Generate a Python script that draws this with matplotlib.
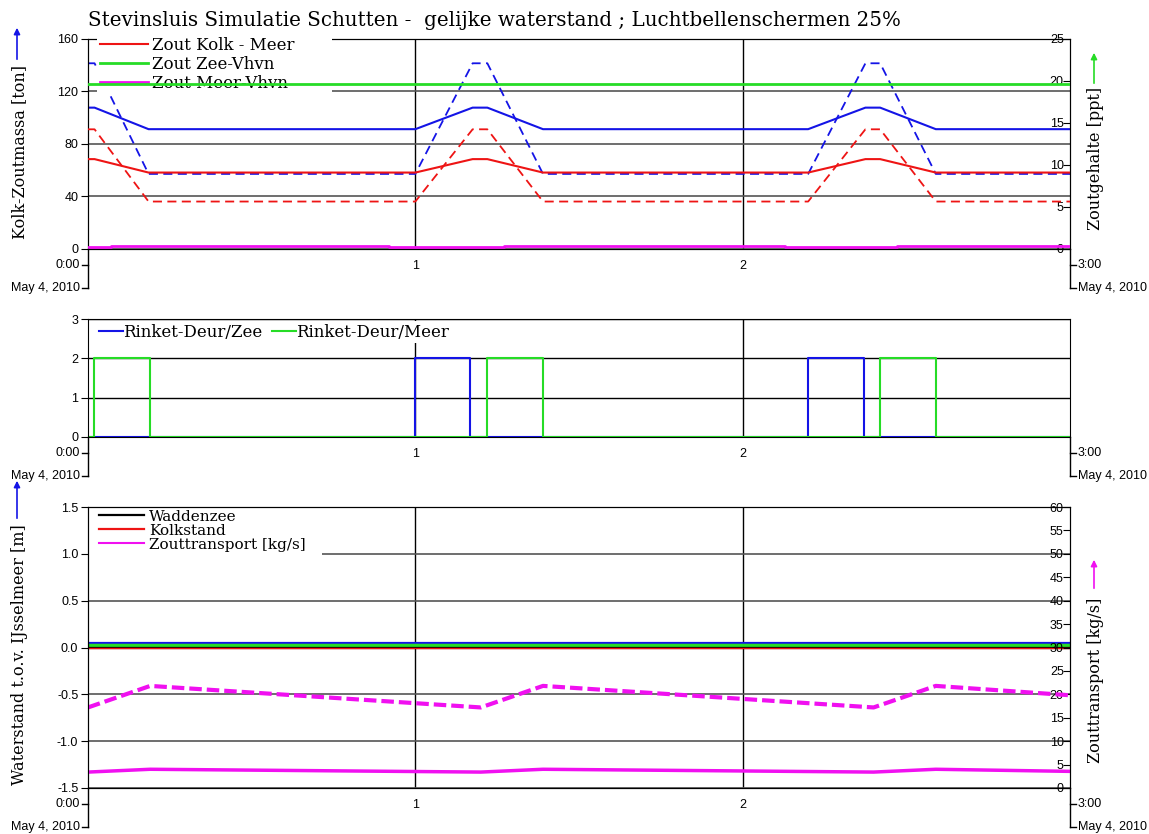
import matplotlib
matplotlib.use('Agg')
import matplotlib.pyplot as plt
from matplotlib.lines import Line2D
from matplotlib.patches import FancyArrowPatch, Rectangle

plt.rcParams['font.family'] = ['Liberation Sans', 'DejaVu Sans']

# ---- data, tijd in uren vanaf 0:00 (May 4, 2010) ----
# paneel 1: kolk-zoutmassa [ton] en zoutgehalte [ppt]
t_kolk = [0, 0.02, 0.185, 1.0, 1.175, 1.22, 1.39, 2.2, 2.375, 2.42, 2.59, 3.0]
massa_max = [141.5, 141.5, 57.2, 57.2, 141.5, 141.5, 57.2, 57.2, 141.5, 141.5, 57.2, 57.2]
massa_gem = [107.7, 107.7, 91.3, 91.3, 107.7, 107.7, 91.3, 91.3, 107.7, 107.7, 91.3, 91.3]
zout_kolk_max = [14.25, 14.25, 5.65, 5.65, 14.25, 14.25, 5.65, 5.65, 14.25, 14.25, 5.65, 5.65]
zout_kolk_gem = [10.7, 10.7, 9.1, 9.1, 10.7, 10.7, 9.1, 9.1, 10.7, 10.7, 9.1, 9.1]
t_zee = [0, 3.0]
zout_zee = [19.6, 19.6]
t_meer = [0, 0.07, 0.07, 0.92, 0.92, 1.27, 1.27, 2.13, 2.13, 2.47, 2.47, 3.0]
zout_meer = [0.2, 0.2, 0.3, 0.3, 0.2, 0.2, 0.3, 0.3, 0.2, 0.2, 0.3, 0.3]

# paneel 2: deurstanden
t_deur_zee = [0, 1.0, 1.0, 1.168, 1.168, 2.2, 2.2, 2.37, 2.37, 3.0]
deur_zee = [0, 0, 2, 2, 0, 0, 2, 2, 0, 0]
t_deur_meer = [0, 0.018, 0.018, 0.19, 0.19, 1.22, 1.22, 1.39, 1.39, 2.42, 2.42, 2.59, 2.59, 3.0]
deur_meer = [0, 0, 2, 2, 0, 0, 2, 2, 0, 0, 2, 2, 0, 0]

# paneel 3: waterstanden [m] en zouttransport [kg/s]
t_stand = [0, 3.0]
stand_blauw = [0.05, 0.05]
stand_groen = [0.025, 0.025]
waddenzee = [0.0, 0.0]
kolkstand = [0.0, 0.0]
t_transport = [0, 0.19, 1.2, 1.39, 2.4, 2.59, 3.0]
transport_max = [17.2, 21.8, 17.2, 21.8, 17.2, 21.8, 19.8]
transport_gem = [3.4, 4.0, 3.4, 4.0, 3.4, 4.0, 3.55]

titel = "Stevinsluis Simulatie Schutten -  gelijke waterstand ; Luchtbellenschermen 25%"

BLAUW = '#1414e6'
ROOD = '#ee1414'
GROEN = '#26dc26'
MAGENTA = '#f010f0'
SERIF = 'DejaVu Serif'

W, H = 1149, 834
fig = plt.figure(figsize=(W / 100, H / 100), dpi=100)


def box(left, top, right, bottom):
    return [left / W, 1 - bottom / H, (right - left) / W, (bottom - top) / H]


def opmaak(ax, ylim, yticks):
    ax.set_xlim(0, 3)
    ax.set_ylim(*ylim)
    ax.set_yticks(yticks)
    ax.set_xticks([1, 2], ['1', '2'])
    ax.tick_params(axis='x', length=0, pad=8, labelsize=9)
    ax.tick_params(axis='y', direction='out', length=5, labelsize=9, pad=2)
    ax.grid(axis='y', color='#555555', lw=1.2)
    ax.grid(axis='x', color='black', lw=1)


def rechteras(ax, ylim, yticks):
    ax.set_ylim(*ylim)
    ax.set_yticks(yticks)
    ax.tick_params(axis='y', direction='in', length=5, labelsize=9, pad=-4.5)
    for lab in ax.get_yticklabels():
        lab.set_ha('right')


def tijdas(ax):
    # verlengde assen met 0:00 / 3:00 en datum eronder
    p = ax.get_position()
    d1, d2, tk = 16 / H, 39 / H, 6 / W
    for x, s in ((p.x0, -1), (p.x1, 1)):
        fig.add_artist(Line2D([x, x], [p.y0, p.y0 - d2], color='black', lw=1))
        for d in (d1, d2):
            fig.add_artist(Line2D([x, x + s * tk], [p.y0 - d, p.y0 - d], color='black', lw=1))
    kw = dict(fontsize=9, va='center')
    fig.text(p.x0 - tk - 2 / W, p.y0 - d1, '0:00', ha='right', **kw)
    fig.text(p.x0 - tk - 2 / W, p.y0 - d2, 'May 4, 2010', ha='right', **kw)
    fig.text(p.x1 + tk + 2 / W, p.y0 - d1, '3:00', ha='left', **kw)
    fig.text(p.x1 + tk + 2 / W, p.y0 - d2, 'May 4, 2010', ha='left', **kw)


def wit_vlak(ax, top, bottom, left, right, zorder):
    # witte achtergrond achter de legenda (pixels t.o.v. de figuur)
    p = ax.get_position()
    x0 = (left / W - p.x0) / p.width
    y0 = ((1 - bottom / H) - p.y0) / p.height
    ax.add_patch(Rectangle((x0, y0), (right - left) / W / p.width,
                           (bottom - top) / H / p.height, transform=ax.transAxes,
                           facecolor='white', edgecolor='none', clip_on=False,
                           zorder=zorder))


def pijl(x, y0, y1, kleur):
    fig.add_artist(FancyArrowPatch((x / W, 1 - y0 / H), (x / W, 1 - y1 / H),
                                   transform=fig.transFigure, arrowstyle='-|>',
                                   mutation_scale=9, color=kleur, lw=1.2))


legkw = dict(loc='upper left', borderaxespad=0, frameon=False)

# ---------------- paneel 1 ----------------
ax1 = fig.add_axes(box(88, 39, 1070, 249))
opmaak(ax1, (0, 160), [0, 40, 80, 120, 160])
ax1.plot(t_kolk, massa_max, color=BLAUW, lw=1.3, ls=(0, (5, 3)))
ax1.plot(t_kolk, massa_gem, color=BLAUW, lw=1.5)
ax1t = ax1.twinx()
ax1t.set_xlim(0, 3)
rechteras(ax1t, (0, 25), [0, 5, 10, 15, 20, 25])
ax1t.plot(t_kolk, zout_kolk_max, color=ROOD, lw=1.3, ls=(0, (5, 3)), zorder=5)
l_kolk, = ax1t.plot(t_kolk, zout_kolk_gem, color=ROOD, lw=1.5, zorder=5)
l_zee, = ax1t.plot(t_zee, zout_zee, color=GROEN, lw=2, zorder=5)
l_meer, = ax1t.plot(t_meer, zout_meer, color=MAGENTA, lw=2, zorder=5)
wit_vlak(ax1t, 33, 96, 97, 332, 3.9)
leg = ax1t.legend([l_kolk, l_zee, l_meer], ['Zout Kolk - Meer', 'Zout Zee-Vhvn', 'Zout Meer-Vhvn'],
                  bbox_to_anchor=(9 / 982, (249 - 34.3) / 210), handlelength=2.9,
                  handletextpad=0.25, labelspacing=0.12, borderpad=0.15,
                  prop={'family': SERIF, 'size': 12}, **legkw)
leg.set_zorder(4)
tijdas(ax1)

# ---------------- paneel 2 ----------------
ax2 = fig.add_axes(box(88, 319, 1070, 437))
opmaak(ax2, (0, 3), [0, 1, 2, 3])
ax2.grid(axis='y', color='black', lw=1)
l_dz, = ax2.plot(t_deur_zee, deur_zee, color=BLAUW, lw=1.5)
l_dm, = ax2.plot(t_deur_meer, deur_meer, color=GROEN, lw=1.5)
wit_vlak(ax2, 321, 343, 96, 458, 2.2)
ax2.legend([l_dz, l_dm], ['Rinket-Deur/Zee', 'Rinket-Deur/Meer'], ncol=2,
           bbox_to_anchor=(9 / 982, (437 - 322) / 118), handlelength=1.45,
           handletextpad=0.0, columnspacing=0.6, borderpad=0.1,
           prop={'family': SERIF, 'size': 12}, **legkw)
tijdas(ax2)

# ---------------- paneel 3 ----------------
ax3 = fig.add_axes(box(88, 507, 1070, 788))
opmaak(ax3, (-1.5, 1.5), [-1.5, -1.0, -0.5, 0.0, 0.5, 1.0, 1.5])
ax3.set_yticklabels(['-1.5', '-1.0', '-0.5', '0.0', '0.5', '1.0', '1.5'])
ax3.plot(t_stand, stand_blauw, color=BLAUW, lw=1.6)
ax3.plot(t_stand, stand_groen, color=GROEN, lw=2.5)
l_wad, = ax3.plot(t_stand, waddenzee, color='black', lw=1.6)
l_ks, = ax3.plot(t_stand, kolkstand, color=ROOD, lw=1.0)
wit_vlak(ax3, 509, 557, 89, 322, 2.2)
ax3t = ax3.twinx()
ax3t.set_xlim(0, 3)
rechteras(ax3t, (0, 60), list(range(0, 61, 5)))
ax3t.plot(t_transport, transport_max, color=MAGENTA, lw=3, ls=(0, (3, 1.2)))
ax3t.plot(t_transport, transport_gem, color=MAGENTA, lw=2.5)
l_tr = Line2D([], [], color=MAGENTA, lw=1.5)
ax3t.legend([l_wad, Line2D([], [], color=ROOD, lw=1.6), l_tr],
            ['Waddenzee', 'Kolkstand', 'Zouttransport [kg/s]'],
            bbox_to_anchor=(9 / 982, (788 - 508) / 281), handlelength=3.0,
            handletextpad=0.3, labelspacing=0.0, borderpad=0.1,
            prop={'family': SERIF, 'size': 11}, **legkw)
tijdas(ax3)

# ---------------- teksten en pijlen ----------------
fig.text(88 / W, 1 - 20 / H, titel, ha='left', va='center', fontsize=14.3, family=SERIF)
lab = dict(rotation=90, ha='center', va='center', fontsize=11.5, family=SERIF)
fig.text(20 / W, 1 - 152 / H, 'Kolk-Zoutmassa [ton]', **lab)
fig.text(1095 / W, 1 - 158 / H, 'Zoutgehalte [ppt]', **lab)
fig.text(20 / W, 1 - 655 / H, 'Waterstand t.o.v. IJsselmeer [m]', **lab)
fig.text(1095 / W, 1 - 680 / H, 'Zouttransport [kg/s]', **lab)
pijl(17, 62, 25, BLAUW)
pijl(17, 521, 478, BLAUW)
pijl(1094, 86, 50, GROEN)
pijl(1094, 591, 557, MAGENTA)

fig.savefig('out.png', dpi=100)
